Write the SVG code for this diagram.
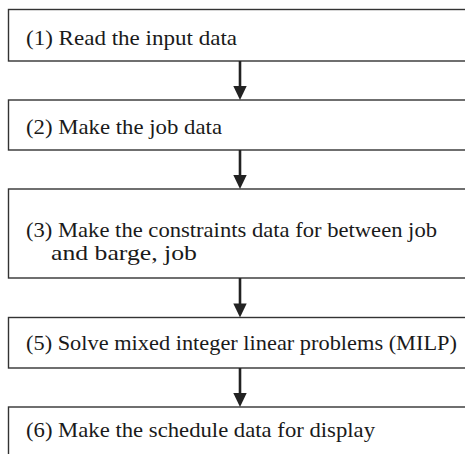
<svg xmlns="http://www.w3.org/2000/svg" width="465" height="454" viewBox="0 0 465 454">
  <style>
    .box { fill: #ffffff; stroke: #333333; stroke-width: 1.4; }
    .lbl { font-family: "Liberation Serif", "Times New Roman", serif; font-size: 21px; fill: #1a1a1a; }
    .wire { stroke: #222222; stroke-width: 2.6; fill: none; }
    .head { fill: #222222; }
  </style>
  <rect width="465" height="454" fill="#ffffff"/>

  <g id="step1">
    <rect class="box" x="8.5" y="9.5" width="470" height="51.5"/>
    <text class="lbl" x="26" y="44.5" textLength="211" lengthAdjust="spacingAndGlyphs">(1) Read the input data</text>
  </g>
  <g id="step2">
    <rect class="box" x="8.5" y="100" width="470" height="50"/>
    <text class="lbl" x="26" y="134" textLength="196" lengthAdjust="spacingAndGlyphs">(2) Make the job data</text>
  </g>
  <g id="step3">
    <rect class="box" x="8.5" y="189" width="470" height="89"/>
    <text class="lbl" x="26" y="237" textLength="411" lengthAdjust="spacingAndGlyphs">(3) Make the constraints data for between job</text>
    <text class="lbl" x="51" y="260" textLength="146" lengthAdjust="spacingAndGlyphs">and barge, job</text>
  </g>
  <g id="step5">
    <rect class="box" x="8.5" y="317.5" width="470" height="50.5"/>
    <text class="lbl" x="26" y="350" textLength="431" lengthAdjust="spacingAndGlyphs">(5) Solve mixed integer linear problems (MILP)</text>
  </g>
  <g id="step6">
    <rect class="box" x="8.5" y="407" width="470" height="60"/>
    <text class="lbl" x="26" y="437" textLength="349" lengthAdjust="spacingAndGlyphs">(6) Make the schedule data for display</text>
  </g>

  <g id="connectors">
    <line class="wire" x1="240" y1="61" x2="240" y2="88"/>
    <polygon class="head" points="233.3,86 246.7,86 240,100"/>
    <line class="wire" x1="240" y1="150" x2="240" y2="177"/>
    <polygon class="head" points="233.3,175 246.7,175 240,189"/>
    <line class="wire" x1="240" y1="278" x2="240" y2="305.5"/>
    <polygon class="head" points="233.3,303.5 246.7,303.5 240,317.5"/>
    <line class="wire" x1="240" y1="368" x2="240" y2="395"/>
    <polygon class="head" points="233.3,393 246.7,393 240,407"/>
  </g>
</svg>
